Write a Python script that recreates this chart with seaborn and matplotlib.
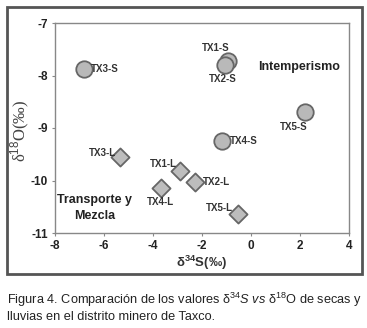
import matplotlib
matplotlib.use("Agg")
import matplotlib.pyplot as plt
import seaborn as sns
import pandas as pd
from matplotlib.patches import Rectangle

plt.rcParams["mathtext.fontset"] = "custom"
plt.rcParams["mathtext.rm"] = "Liberation Sans"
plt.rcParams["mathtext.it"] = "Liberation Sans:italic"
plt.rcParams["mathtext.bf"] = "Liberation Sans:bold"

samples = ["TX1-S", "TX2-S", "TX3-S", "TX4-S", "TX5-S",
           "TX1-L", "TX2-L", "TX3-L", "TX4-L", "TX5-L"]
season = ["Secas"] * 5 + ["Lluvias"] * 5
d34s = [-0.95, -1.08, -6.8, -1.18, 2.2,
        -2.88, -2.27, -5.35, -3.68, -0.55]
d18o = [-7.72, -7.80, -7.88, -9.25, -8.70,
        -9.81, -10.03, -9.56, -10.14, -10.64]

xticks = [-8, -6, -4, -2, 0, 2, 4]
yticks = [-11, -10, -9, -8, -7]

df = pd.DataFrame({"sample": samples, "season": season, "d34s": d34s, "d18o": d18o})

W, H = 367, 328
fig = plt.figure(figsize=(W / 100, H / 100), dpi=100)
ax = fig.add_axes([55 / W, 1 - 233 / H, (349 - 55) / W, (233 - 23) / H])

sns.scatterplot(data=df[df.season == "Secas"], x="d34s", y="d18o", marker="o", s=140,
                color="#b9b9b9", edgecolor="#666666", linewidth=1.3, ax=ax, legend=False, zorder=3)
sns.scatterplot(data=df[df.season == "Lluvias"], x="d34s", y="d18o", marker="D", s=85,
                color="#bdbdbd", edgecolor="#666666", linewidth=1.3, ax=ax, legend=False, zorder=3)

ax.set_xlim(-8, 4)
ax.set_ylim(-11, -7)
ax.set_xticks(xticks)
ax.set_yticks(yticks)
ax.set_xticklabels([str(t) for t in xticks], fontsize=8.5, fontweight="bold", family="Liberation Sans", color="#222222")
ax.set_yticklabels([str(t) for t in yticks], fontsize=8.5, fontweight="bold", family="Liberation Sans", color="#222222")
ax.tick_params(length=2, width=0.8, color="#888888", pad=3)
for sp in ax.spines.values():
    sp.set_color("#888888")
    sp.set_linewidth(1.0)
ax.set_xlabel("")
ax.set_ylabel("")

fig.text(202 / W, 1 - 263 / H, "δ$^{\\mathbf{34}}$S(‰)", ha="center", va="center",
         fontsize=9.5, fontweight="bold", family="Liberation Sans", color="#333333")
fig.text(20 / W, 1 - 131 / H, "δ$^{18}$O(‰)", ha="center", va="center", rotation=90,
         fontsize=12, family="Liberation Serif", color="#444444")

px = 0.72  # pixel -> point
offsets = {
    "TX1-S": (-12, 13, "center"),
    "TX2-S": (-2, -14, "center"),
    "TX3-S": (6, 0, "left"),
    "TX4-S": (8, 0, "left"),
    "TX5-S": (-11, -15, "center"),
    "TX1-L": (-4, 7, "right"),
    "TX2-L": (7, 0, "left"),
    "TX3-L": (-4, 4, "right"),
    "TX4-L": (0, -14, "center"),
    "TX5-L": (-5, 6, "right"),
}
for s, x, y in zip(samples, d34s, d18o):
    dx, dy, ha = offsets[s]
    ax.annotate(s, (x, y), xytext=(dx * px, dy * px), textcoords="offset points",
                ha=ha, va="center", fontsize=7, fontweight="bold", family="Liberation Sans",
                color="#333333", zorder=4)

ax.text(1.96, -7.83, "Intemperismo", ha="center", va="center", fontsize=9,
        fontweight="bold", family="Liberation Sans", color="#222222")
ax.text(-6.39, -10.52, "Transporte y\nMezcla", ha="center", va="center", fontsize=9,
        fontweight="bold", family="Liberation Sans", color="#222222", linespacing=1.45)

fig.patches.append(Rectangle((7 / W, 1 - 274 / H), 355 / W, 267 / H, transform=fig.transFigure,
                             fill=False, edgecolor="#555555", linewidth=2))

cap_family = ["Liberation Sans Narrow", "Liberation Sans"]
fig.text(7 / W, 1 - 300 / H,
         "Figura 4. Comparación de los valores δ$^{34}$$S$ $vs$ δ$^{18}$O de secas y",
         ha="left", va="center", fontsize=9.2, family=cap_family, color="#222222")
fig.text(7 / W, 1 - 317 / H, "lluvias en el distrito minero de Taxco.",
         ha="left", va="center", fontsize=9.2, family=cap_family, color="#222222")

fig.savefig("out.png", dpi=100)
